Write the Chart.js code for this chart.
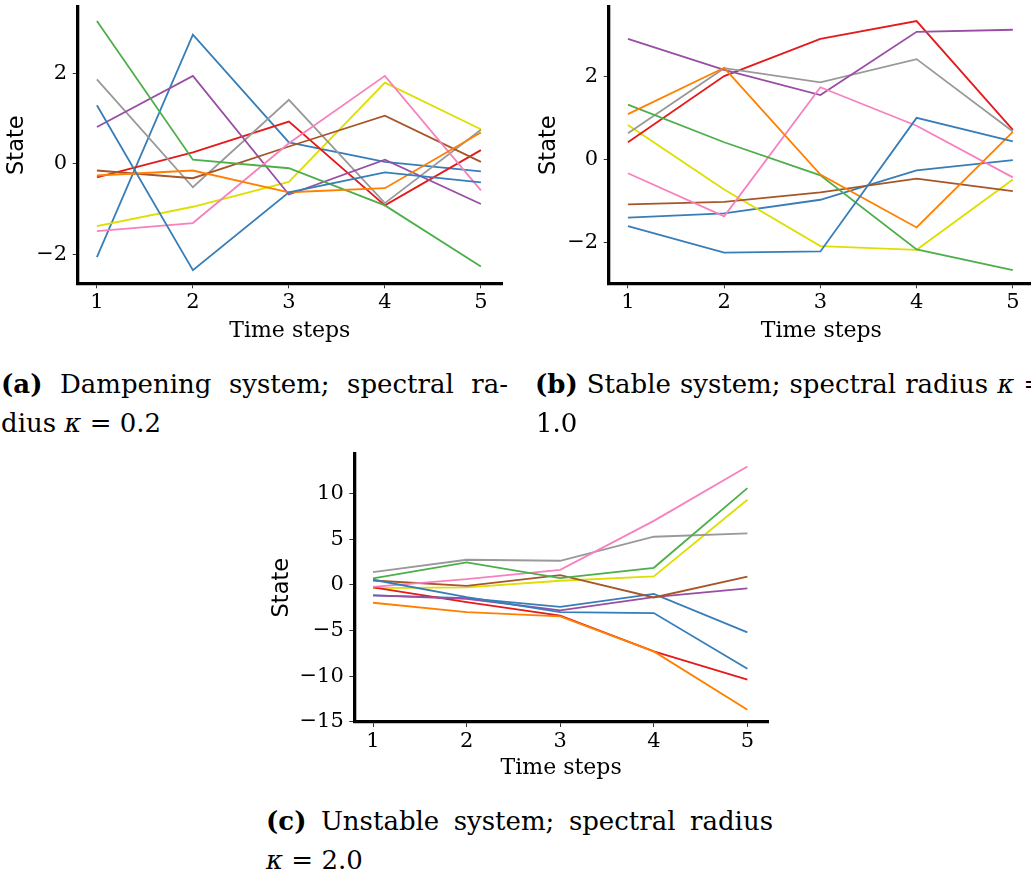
<!DOCTYPE html>
<html>
<head>
<meta charset="utf-8">
<script src="https://cdn.jsdelivr.net/npm/chart.js@4.4.0/dist/chart.umd.min.js"></script>
<style>
    html, body {
        margin: 0;
        padding: 0;
        background: #fff;
        width: 1031px;
        height: 874px;
        overflow: hidden;
        position: relative;
    }
    canvas {
        position: absolute;
    }
    .caption {
        position: absolute;
        font-family: "DejaVu Serif", serif;
        font-size: 26px;
        line-height: 1;
        color: #000;
        text-align: justify;
        text-align-last: justify;
    }
    .caption.plain {
        text-align: left;
        text-align-last: left;
    }
</style>
</head>
<body>
<canvas id="chartA"></canvas>
<canvas id="chartB"></canvas>
<canvas id="chartC"></canvas>

<div class="caption" style="left:1px; top:371px; width:507px;"><b>(a)</b> Dampening system; spectral ra-</div>
<div class="caption plain" style="left:1px; top:410px;">dius <i>κ</i> = 0.2</div>
<div class="caption" style="left:535px; top:371px; width:510px;"><b>(b)</b> Stable system; spectral radius <i>κ</i> =</div>
<div class="caption plain" style="left:536px; top:410px;">1.0</div>
<div class="caption" style="left:266px; top:808px; width:507px;"><b>(c)</b> Unstable system; spectral radius</div>
<div class="caption plain" style="left:266px; top:847px;"><i>κ</i> = 2.0</div>

<script>
// time axis, shared by the three panels
const timeSteps = [1, 2, 3, 4, 5];

// colour cycle: blue, orange, green, pink, brown, purple, grey, red, yellow
const lineColors = [`#377eb8`, `#ff7f00`, `#4daf4a`, `#f781bf`, `#a65628`,
    `#984ea3`, `#999999`, `#e41a1c`, `#dede00`];

// (a) dampening system, kappa = 0.2
const dampeningStates = [
    [1.29, -2.35, -0.63, -0.19, -0.41],
    [-0.26, -0.15, -0.63, -0.54, 0.69],
    [3.15, 0.09, -0.10, -0.92, -2.27],
    [-1.49, -1.31, 0.45, 1.94, -0.59],
    [-0.15, -0.32, 0.38, 1.06, 0.04],
    [0.81, 1.94, -0.68, 0.09, -0.89],
    [1.86, -0.52, 1.41, -0.87, 0.75],
    [-0.30, 0.25, 0.93, -0.92, 0.30],
    [-1.38, -0.95, -0.40, 1.79, 0.76],
    [-2.06, 2.85, 0.47, 0.04, -0.17],
];

// (b) stable system, kappa = 1.0
const stableStates = [
    [-1.61, -2.25, -2.22, 1.01, 0.44],
    [1.10, 2.22, -0.36, -1.64, 0.67],
    [1.33, 0.42, -0.38, -2.17, -2.67],
    [-0.33, -1.37, 1.75, 0.82, -0.43],
    [-1.08, -1.02, -0.79, -0.46, -0.76],
    [2.92, 2.17, 1.56, 3.09, 3.14],
    [0.64, 2.21, 1.87, 2.43, 0.68],
    [0.42, 2.02, 2.92, 3.35, 0.72],
    [0.84, -0.72, -2.09, -2.18, -0.48],
    [-1.40, -1.30, -0.97, -0.26, -0.01],
];

// (c) unstable system, kappa = 2.0
const unstableStates = [
    [0.55, -1.35, -3.00, -3.10, -9.20],
    [-1.97, -3.00, -3.47, -7.30, -13.70],
    [0.69, 2.45, 0.73, 1.86, 10.58],
    [-0.22, 0.62, 1.64, 7.00, 12.96],
    [0.47, -0.11, 1.06, -1.39, 0.88],
    [-1.17, -1.53, -2.81, -1.35, -0.40],
    [1.39, 2.74, 2.63, 5.26, 5.62],
    [-0.29, -1.90, -3.39, -7.30, -10.40],
    [-0.36, -0.29, 0.44, 0.91, 9.31],
    [-1.17, -1.46, -2.41, -0.99, -5.22],
];

// tick labels
const stateTicksSmall = [-2, 0, 2];
const stateTicksLarge = [-15, -10, -5, 0, 5, 10];

// axis ranges (matplotlib default 5% margins)
const timeRange = [0.8, 5.22];
const dampeningRange = [-2.64, 3.46];
const stableRange = [-2.99, 3.69];
const unstableRange = [-15.03, 14.4];


const minusLabel = function (value) {
    // matplotlib uses a real minus sign
    return value < 0 ? `\u2212${Math.abs(value)}` : String(value);
};

const drawPanel = function (canvasId, states, yRange, yTicks, box) {
    /* box holds the page position of the plot area (plotLeft, plotRight, plotTop, plotBottom),
    the left edge of the "State" title and the bottom of the "Time steps" title */
    const canvas = document.getElementById(canvasId);
    const topPadding = 24;
    const left = Math.round(box.left);
    const top = Math.round(box.plotTop - topPadding);
    const width = Math.round(box.plotRight + 4 - left);
    const height = Math.round(box.titleBottom - top);
    canvas.width = width;
    canvas.height = height;
    canvas.style.left = `${left}px`;
    canvas.style.top = `${top}px`;

    const yAxisWidth = box.plotLeft - left;
    const xAxisHeight = height - (box.plotBottom - top);

    const datasets = states.map((values, i) => {
        return {
            data: values.map((value, j) => ({ x: timeSteps[j], y: value })),
            borderColor: lineColors[i % lineColors.length],
            borderWidth: 1.8,
            pointRadius: 0,
            tension: 0,
            fill: false,
        };
    });

    const tickGrid = {
        display: true,
        drawOnChartArea: false,
        drawTicks: true,
        tickLength: 5,
        color: `#333`,
        lineWidth: 1,
    };
    const spine = { display: true, color: `#000`, width: 3.3 };

    return new Chart(canvas, {
        type: `line`,
        data: { datasets },
        options: {
            responsive: false,
            animation: false,
            events: [],
            layout: { padding: { top: box.plotTop - top, right: 4, left: 0, bottom: 0 } },
            plugins: {
                legend: { display: false },
                tooltip: { enabled: false },
            },
            scales: {
                x: {
                    type: `linear`,
                    min: timeRange[0],
                    max: timeRange[1],
                    afterBuildTicks: scale => {
                        scale.ticks = timeSteps.map(value => ({ value }));
                    },
                    afterFit: scale => {
                        scale.height = xAxisHeight;
                    },
                    grid: tickGrid,
                    border: spine,
                    ticks: {
                        color: `#000`,
                        font: { family: `DejaVu Serif`, size: 21 },
                        padding: 1.5,
                        maxRotation: 0,
                        autoSkip: false,
                    },
                    title: {
                        display: true,
                        text: `Time steps`,
                        color: `#000`,
                        font: { family: `DejaVu Serif`, size: 22 },
                        padding: 0,
                    },
                },
                y: {
                    type: `linear`,
                    min: yRange[0],
                    max: yRange[1],
                    afterBuildTicks: scale => {
                        scale.ticks = yTicks.map(value => ({ value }));
                    },
                    afterFit: scale => {
                        scale.width = yAxisWidth;
                    },
                    grid: tickGrid,
                    border: spine,
                    ticks: {
                        color: `#000`,
                        font: { family: `DejaVu Serif`, size: 21 },
                        padding: 5.5,
                        autoSkip: false,
                        callback: minusLabel,
                    },
                    title: {
                        display: true,
                        text: `State`,
                        color: `#000`,
                        font: { family: `DejaVu Sans`, size: 22.5 },
                        padding: 0,
                    },
                },
            },
        },
    });
};


drawPanel(`chartA`, dampeningStates, dampeningRange, stateTicksSmall, {
    left: 4, plotLeft: 77.7, plotRight: 502, plotTop: 7, plotBottom: 283.3, titleBottom: 344,
});
drawPanel(`chartB`, stableStates, stableRange, stateTicksSmall, {
    left: 536, plotLeft: 608.7, plotRight: 1034, plotTop: 7, plotBottom: 283.3, titleBottom: 344,
});
drawPanel(`chartC`, unstableStates, unstableRange, stateTicksLarge, {
    left: 269, plotLeft: 354.3, plotRight: 768, plotTop: 453.3, plotBottom: 722, titleBottom: 781,
});
</script>
</body>
</html>
